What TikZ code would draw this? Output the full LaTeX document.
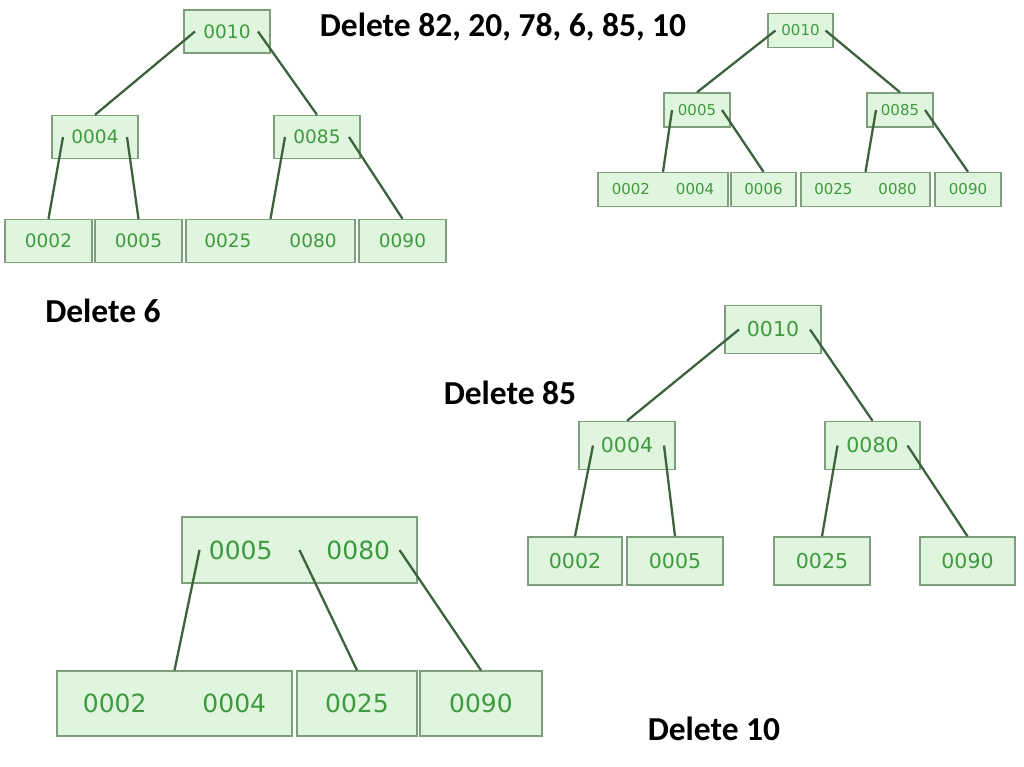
\documentclass[tikz,border=0pt]{standalone}
\usepackage{fontspec}
\setmainfont{Carlito}
\newfontfamily\keyfont{DejaVu Sans}
\definecolor{boxfill}{HTML}{E0F5DD}
\definecolor{boxline}{HTML}{7E9F7C}
\definecolor{edgeline}{HTML}{3C633C}
\definecolor{keytext}{HTML}{3E9A3E}

\begin{document}
\begin{tikzpicture}[x=1pt,y=-1pt,
    keybox/.style={draw=boxline, fill=boxfill, line width=1.4pt, text=keytext, inner sep=0pt},
    t1key/.style={keybox, minimum height=43pt, font=\keyfont\fontsize{18.5}{21}\selectfont},
    t2key/.style={keybox, minimum height=34pt, font=\keyfont\fontsize{15}{17}\selectfont},
    t3key/.style={keybox, minimum height=48pt, font=\keyfont\fontsize{20.5}{23}\selectfont},
    t4key/.style={keybox, minimum height=65pt, font=\keyfont\fontsize{25}{28}\selectfont},
    edge/.style={draw=edgeline, line width=2.3pt},
    caption/.style={font=\fontsize{33.5}{38}\selectfont\bfseries}]
    \useasboundingbox (0,0) rectangle (1024,767);

    % first tree
    \node[t1key, minimum width=86pt] (t1r) at (227,31.5) {0010};
    \node[t1key, minimum width=86pt] (t1a) at (95,137) {0004};
    \node[t1key, minimum width=86pt] (t1b) at (317,137) {0085};
    \node[t1key, minimum width=87pt] (t1c) at (48.5,241) {0002};
    \node[t1key, minimum width=87pt] (t1d) at (138.5,241) {0005};
    \node[t1key, minimum width=169pt] (t1e) at (270.5,241) {0025\hspace{38pt}0080};
    \node[t1key, minimum width=87pt] (t1f) at (402.5,241) {0090};
    \draw[edge] ([xshift=-32pt]t1r.center) -- (t1a.north);
    \draw[edge] ([xshift=31pt]t1r.center) -- (t1b.north);
    \draw[edge] ([xshift=-32pt]t1a.center) -- (t1c.north);
    \draw[edge] ([xshift=32pt]t1a.center) -- (t1d.north);
    \draw[edge] ([xshift=-32pt]t1b.center) -- (t1e.north);
    \draw[edge] ([xshift=32pt]t1b.center) -- (t1f.north);

    \node[caption] (title) at (503,27) {Delete 82, 20, 78, 6, 85, 10};

    % second tree
    \node[t2key, minimum width=65pt] (t2r) at (800.5,30.5) {0010};
    \node[t2key, minimum width=66pt] (t2a) at (697,110) {0005};
    \node[t2key, minimum width=66pt] (t2b) at (900,110) {0085};
    \node[t2key, minimum width=130pt] (t2c) at (663,189.5) {0002\hspace{26pt}0004};
    \node[t2key, minimum width=65pt] (t2d) at (763.5,189.5) {0006};
    \node[t2key, minimum width=129pt] (t2e) at (865.5,189.5) {0025\hspace{26pt}0080};
    \node[t2key, minimum width=66pt] (t2f) at (968,189.5) {0090};
    \draw[edge] ([xshift=-25pt]t2r.center) -- (t2a.north);
    \draw[edge] ([xshift=25pt]t2r.center) -- (t2b.north);
    \draw[edge] ([xshift=-25pt]t2a.center) -- (t2c.north);
    \draw[edge] ([xshift=25pt]t2a.center) -- (t2d.north);
    \draw[edge] ([xshift=-24pt]t2b.center) -- (t2e.north);
    \draw[edge] ([xshift=25pt]t2b.center) -- (t2f.north);

    \node[caption] (del6) at (103,311) {Delete 6};

    % third tree
    \node[t3key, minimum width=96pt] (t3r) at (773,329.5) {0010};
    \node[t3key, minimum width=96pt] (t3a) at (627,445.5) {0004};
    \node[t3key, minimum width=95pt] (t3b) at (872.5,445.5) {0080};
    \node[t3key, minimum width=94pt] (t3c) at (575,561) {0002};
    \node[t3key, minimum width=96pt] (t3d) at (675,561) {0005};
    \node[t3key, minimum width=96pt] (t3e) at (822,561) {0025};
    \node[t3key, minimum width=95pt] (t3f) at (967.5,561) {0090};
    \draw[edge] ([xshift=-34pt]t3r.center) -- (t3a.north);
    \draw[edge] ([xshift=37pt]t3r.center) -- (t3b.north);
    \draw[edge] ([xshift=-34pt]t3a.center) -- (t3c.north);
    \draw[edge] ([xshift=37pt]t3a.center) -- (t3d.north);
    \draw[edge] ([xshift=-35pt]t3b.center) -- (t3e.north);
    \draw[edge] ([xshift=35pt]t3b.center) -- (t3f.north);

    \node[caption] (del85) at (510,393) {Delete 85};

    % fourth tree
    \node[t4key, minimum width=235pt, minimum height=66pt] (t4r) at (299.5,550) {0005\hspace{54pt}0080};
    \node[t4key, minimum width=235pt] (t4a) at (174.5,703.5) {0002\hspace{56pt}0004};
    \node[t4key, minimum width=120pt] (t4b) at (357,703.5) {0025};
    \node[t4key, minimum width=122pt] (t4c) at (481,703.5) {0090};
    \draw[edge] ([xshift=-100pt]t4r.center) -- (t4a.north);
    \draw[edge] ([xshift=0pt]t4r.center) -- (t4b.north);
    \draw[edge] ([xshift=100pt]t4r.center) -- (t4c.north);

    \node[caption] (del10) at (714,729) {Delete 10};
\end{tikzpicture}
\end{document}
